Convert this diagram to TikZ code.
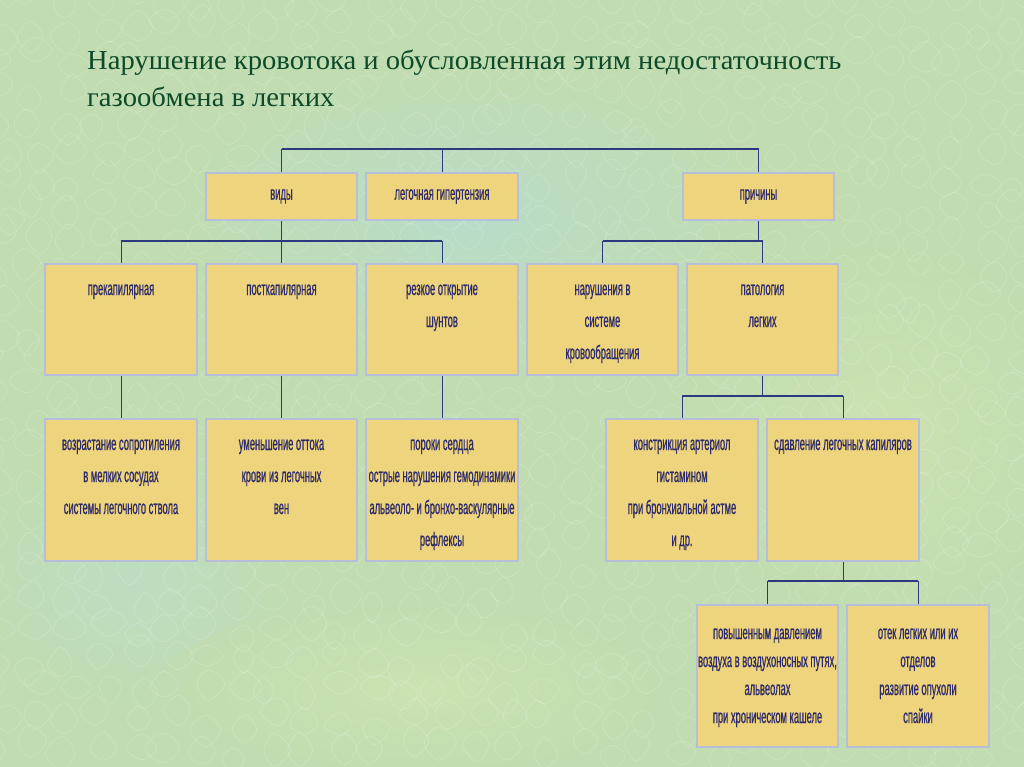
\documentclass[tikz,border=0pt]{standalone}
\usepackage{fontspec}
\setmainfont{Liberation Serif}
\newfontfamily\titlefont[FakeStretch=1.04]{Liberation Serif}
\newfontfamily\boxfont[FakeStretch=0.48,FakeBold=0.6]{Liberation Sans}
\definecolor{bgbase}{HTML}{C0DCB0}
\definecolor{bgblue}{HTML}{B8DCC8}
\definecolor{bgblue2}{HTML}{BCDDC2}
\definecolor{bglight}{HTML}{CCE2B2}
\definecolor{titlegreen}{HTML}{0E4A2A}
\definecolor{boxfill}{HTML}{EDD47D}
\definecolor{boxline}{HTML}{B7BEDC}
\definecolor{boxtext}{HTML}{2E2B6A}
\definecolor{bus}{HTML}{2B3A7E}
\newcommand{\bxt}[5]{\parbox[c][#2][t]{#1}{\centering\boxfont\fontsize{19.5}{#4}\selectfont\rule{0pt}{#3}#5\par}}
\tikzset{
  box/.style={rectangle, draw=boxline, fill=boxfill, line width=2pt, inner sep=0pt, anchor=north west, text=boxtext},
  toplabel/.style={font=\boxfont\fontsize{19.5}{22}\selectfont},
  hbus/.style={draw=bus, line width=1.8pt},
  vlink/.style={draw=bus, line width=0.9pt},
  cell/.style={draw=white, line width=0.6pt, opacity=0.22},
}
\begin{document}
\begin{tikzpicture}[x=1pt, y=-1pt]
\useasboundingbox (0,0) rectangle (1024,767);
% background
\fill[bgbase] (0,0) rectangle (1024,767);
\shade[inner color=bgblue, outer color=bgbase] (470,220) ellipse (300 and 150);
\shade[inner color=bgblue2, outer color=bgbase] (130,580) ellipse (170 and 130);
\shade[inner color=bglight, outer color=bgbase] (880,430) ellipse (220 and 200);
\shade[inner color=bglight, outer color=bgbase] (420,690) ellipse (260 and 90);
% subtle plaster texture
\pgfmathsetseed{7}
\foreach \cx in {0,34,...,1024} {
  \foreach \cy in {0,30,...,767} {
    \pgfmathsetmacro{\dx}{\cx+rnd*20-10}
    \pgfmathsetmacro{\dy}{\cy+rnd*20-10}
    \pgfmathsetmacro{\ra}{10+rnd*8}
    \pgfmathsetmacro{\rb}{10+rnd*8}
    \pgfmathsetmacro{\rc}{10+rnd*8}
    \pgfmathsetmacro{\rd}{10+rnd*8}
    \draw[cell] plot[smooth cycle, tension=0.6] coordinates {(\dx+\ra,\dy) (\dx,\dy+\rb) (\dx-\rc,\dy) (\dx,\dy-\rd)};
  }
}
% title
\node[anchor=base west, text=titlegreen, font=\titlefont\fontsize{27.5}{38}\selectfont, inner sep=0pt] (title1) at (87,70) {Нарушение кровотока и обусловленная этим недостаточность};
\node[anchor=base west, text=titlegreen, font=\titlefont\fontsize{27.5}{38}\selectfont, inner sep=0pt] (title2) at (87,107) {газообмена в легких};
% row 1
\node[box, toplabel, minimum width=151pt, minimum height=47pt] (vidy) at (205,172) {виды};
\node[box, toplabel, minimum width=152pt, minimum height=47pt] (leg) at (365,172) {легочная гипертензия};
\node[box, toplabel, minimum width=151pt, minimum height=47pt] (prich) at (682,172) {причины};
% row 2
\node[box] (prek) at (44,263) {\bxt{152pt}{111pt}{31pt}{32pt}{прекапилярная}};
\node[box] (post) at (205,263) {\bxt{151pt}{111pt}{31pt}{32pt}{посткапилярная}};
\node[box] (shunt) at (365,263) {\bxt{152pt}{111pt}{31pt}{32pt}{резкое открытие\\шунтов}};
\node[box] (nar) at (526,263) {\bxt{151pt}{111pt}{31pt}{32pt}{нарушения в\\системе\\кровообращения}};
\node[box] (pat) at (686,263) {\bxt{151pt}{111pt}{31pt}{32pt}{патология\\легких}};
% row 3
\node[box] (voz) at (44,418) {\bxt{152pt}{142pt}{31pt}{32pt}{возрастание сопротиления\\в мелких сосудах\\системы легочного ствола}};
\node[box] (umen) at (205,418) {\bxt{151pt}{142pt}{31pt}{32pt}{уменьшение оттока\\крови из легочных\\вен}};
\node[box] (poroki) at (365,418) {\bxt{152pt}{142pt}{31pt}{32pt}{пороки сердца\\острые нарушения гемодинамики\\альвеоло- и бронхо-васкулярные\\рефлексы}};
\node[box] (konstr) at (605,418) {\bxt{152pt}{142pt}{31pt}{32pt}{констрикция артериол\\гистамином\\при бронхиальной астме\\и др.}};
\node[box] (sdav) at (766,418) {\bxt{152pt}{142pt}{31pt}{32pt}{сдавление легочных капиляров}};
% row 4
\node[box] (povysh) at (696,604) {\bxt{141pt}{142pt}{34pt}{28pt}{повышенным давлением\\воздуха в воздухоносных путях,\\альвеолах\\при хроническом кашеле}};
\node[box] (otek) at (846,604) {\bxt{142pt}{142pt}{34pt}{28pt}{отек легких или их\\отделов\\развитие опухоли\\спайки}};
% bus coordinates
\coordinate (b1) at (441,149);
\coordinate (b2) at (441,241);
\coordinate (b3) at (762,396);
\coordinate (b4) at (842,581);
% top bus
\draw[hbus] (vidy.north |- b1) -- (prich.north |- b1);
\draw[vlink] (vidy.north) -- (vidy.north |- b1);
\draw[vlink] (leg.north) -- (leg.north |- b1);
\draw[vlink] (prich.north) -- (prich.north |- b1);
% second level, left
\draw[hbus] (prek.north |- b2) -- (shunt.north |- b2);
\draw[vlink] (vidy.south) -- (vidy.south |- b2);
\draw[vlink] (prek.north) -- (prek.north |- b2);
\draw[vlink] (post.north) -- (post.north |- b2);
\draw[vlink] (shunt.north) -- (shunt.north |- b2);
% second level, right
\draw[hbus] (nar.north |- b2) -- (pat.north |- b2);
\draw[vlink] (prich.south) -- (prich.south |- b2);
\draw[vlink] (nar.north) -- (nar.north |- b2);
\draw[vlink] (pat.north) -- (pat.north |- b2);
% row 2 to row 3
\draw[vlink] (prek.south) -- (voz.north);
\draw[vlink] (post.south) -- (umen.north);
\draw[vlink] (shunt.south) -- (poroki.north);
\draw[hbus] (konstr.north |- b3) -- (sdav.north |- b3);
\draw[vlink] (pat.south) -- (pat.south |- b3);
\draw[vlink] (konstr.north) -- (konstr.north |- b3);
\draw[vlink] (sdav.north) -- (sdav.north |- b3);
% row 3 to row 4
\draw[hbus] (povysh.north |- b4) -- (otek.north |- b4);
\draw[vlink] (sdav.south) -- (sdav.south |- b4);
\draw[vlink] (povysh.north) -- (povysh.north |- b4);
\draw[vlink] (otek.north) -- (otek.north |- b4);
\end{tikzpicture}
\end{document}
